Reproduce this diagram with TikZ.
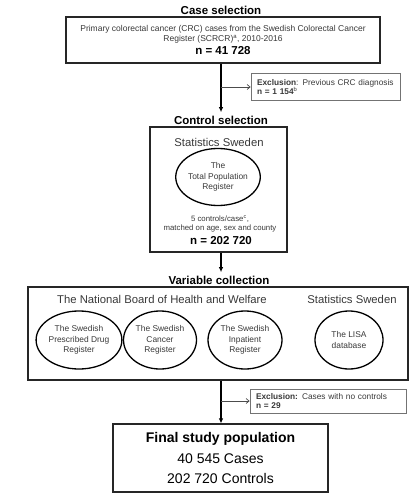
\documentclass[tikz,border=0pt]{standalone}
\usepackage{fontspec}
\setmainfont{Liberation Sans}
\usetikzlibrary{arrows.meta,shapes.geometric}
\definecolor{txt}{HTML}{383838}
\begin{document}
\begin{tikzpicture}[x=1pt,y=-1pt,
  box/.style={draw=black!85,line width=1.1pt,rectangle,inner sep=0pt},
  exbox/.style={draw=black!55,line width=0.8pt,rectangle,inner xsep=6pt,inner ysep=0pt,minimum height=27pt,align=left,text=txt,font=\fontsize{8.3}{9.3}\selectfont},
  ttl/.style={font=\fontsize{11.5}{13}\selectfont\bfseries},
  hdr/.style={font=\fontsize{11.3}{13}\selectfont,text=txt},
  reg/.style={draw=black,line width=1.3pt,ellipse,inner sep=0pt,align=center,font=\fontsize{8.4}{10.2}\selectfont,text=txt},
  arr/.style={line width=1.1pt,-{Latex[length=5pt,width=4.5pt]}},
  sarr/.style={line width=0.7pt,black!70,-{Straight Barb[length=3pt,width=5pt]}}]
\useasboundingbox (0,0) rectangle (419,494);
\coordinate (trunk) at (221,0);

% Case selection
\node[ttl] (t1) at (221,10) {Case selection};
\node[box,minimum width=314pt,minimum height=46pt,align=center,text=txt,font=\fontsize{8.5}{10}\selectfont] (b1) at (223,40)
  {Primary colorectal cancer (CRC) cases from the Swedish Colorectal Cancer\\
   Register (SCRCR)\textsuperscript{a}, 2010-2016\\[3pt]
   {\color{black}\fontsize{11.5}{12}\selectfont\bfseries n = 41 728}};
\node[exbox,text width=137pt] (ex1) at (325.5,87)
  {\textbf{Exclusion}: Previous CRC diagnosis\\\textbf{n = 1 154}\textsuperscript{b}};

% Control selection
\node[ttl] (t2) at (221,120) {Control selection};
\node[box,minimum width=137pt,minimum height=125pt] (b2) at (218.5,189.5) {};
\node[hdr] (h2) at (219,142) {Statistics Sweden};
\node[reg,minimum width=72pt,minimum height=57pt] (tpr) at (218,177) {The\\Total Population\\Register};
\node[align=center,text=txt,font=\fontsize{7.8}{9.5}\selectfont] (m2) at (220,224)
  {5 controls/case\textsuperscript{c},\\matched on age, sex and county};
\node[font=\fontsize{11.5}{13}\selectfont\bfseries] (n2) at (221,241) {n = 202 720};

% Variable collection
\node[ttl] (t3) at (219,280) {Variable collection};
\node[box,minimum width=380pt,minimum height=93pt] (b3) at (218,333.5) {};
\node[hdr] (h3a) at (162,299) {The National Board of Health and Welfare};
\node[hdr] (h3b) at (352,299) {Statistics Sweden};
\node[reg,minimum width=72pt,minimum height=58pt] (r1) at (79,340) {The Swedish\\Prescribed Drug\\Register};
\node[reg,minimum width=73pt,minimum height=58pt] (r2) at (160,340) {The Swedish\\Cancer\\Register};
\node[reg,minimum width=74pt,minimum height=58pt] (r3) at (245,340) {The Swedish\\Inpatient\\Register};
\node[reg,minimum width=68pt,minimum height=58pt] (r4) at (349,340) {The LISA\\database};

\node[exbox,text width=144pt,minimum height=24pt] (ex2) at (328,401)
  {\textbf{Exclusion:} Cases with no controls\\\textbf{n = 29}};

% Final
\node[box,minimum width=215pt,minimum height=68pt,align=center,font=\fontsize{14}{20.5}\selectfont] (fin) at (220.5,458)
  {\textbf{Final study population}\\40 545 Cases\\202 720 Controls};

% connectors
\draw[arr] (b1.south -| trunk) -- (t2.north -| trunk);
\draw[sarr] (ex1.west -| trunk) -- (ex1.west);
\draw[arr] (b2.south -| trunk) -- (t3.north -| trunk);
\draw[arr] (b3.south -| trunk) -- (fin.north -| trunk);
\draw[sarr] (ex2.west -| trunk) -- (ex2.west);
\end{tikzpicture}
\end{document}
